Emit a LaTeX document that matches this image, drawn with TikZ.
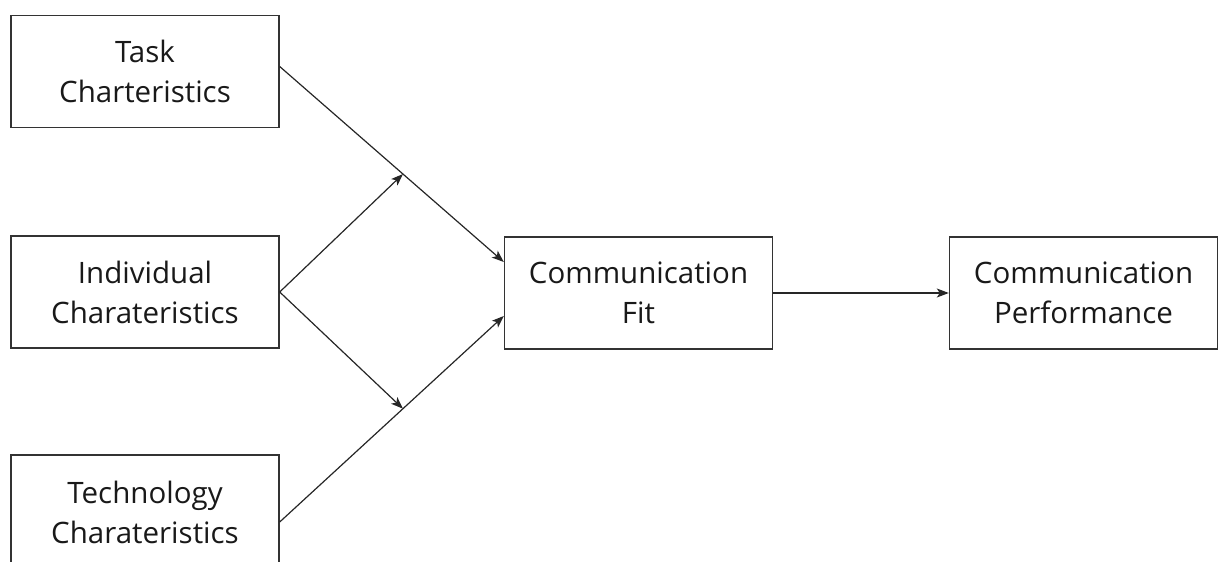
\documentclass[tikz,border=0pt]{standalone}
\usepackage{fontspec}
\setmainfont{Open Sans}
\usetikzlibrary{arrows.meta,calc}
\begin{document}
\begin{tikzpicture}[x=1pt,y=-1pt,
  factor/.style={draw=black!80,line width=1.4pt,minimum width=268pt,minimum height=112pt,
    inner sep=0pt,align=center,font=\fontsize{29.5}{40}\selectfont,text=black!90},
  link/.style={draw=black!85,line width=1.2pt},
  flow/.style={link,-{Stealth[length=12pt,width=9pt,inset=3pt]}}]
\useasboundingbox (0,0) rectangle (1218,562);
% input factors
\node[factor] (task) at (145,71.5) {Task\\Charteristics};
\node[factor] (indiv) at (145,292) {Individual\\Charateristics};
\node[factor,minimum height=114pt] (tech) at (145,512) {Technology\\Charateristics};
% outcomes
\node[factor] (fit) at (638.5,293) {Communication\\Fit};
\node[factor] (perf) at (1083.5,293) {Communication\\Performance};
% entry points on the fit box and the junctions on the diagonals
\coordinate (fitA) at ([yshift=31pt]fit.west);
\coordinate (fitB) at ([yshift=-23pt]fit.west);
\coordinate (taskOut) at ([yshift=5pt]task.east);
\coordinate (techOut) at ([yshift=-10pt]tech.east);
\coordinate (jA) at ($(taskOut)!0.55!(fitA)$);
\coordinate (jB) at ($(techOut)!0.55!(fitB)$);
% connectors
\draw[flow] (taskOut) -- (fitA);
\draw[flow] (techOut) -- (fitB);
\draw[flow] (indiv.east) -- (jA);
\draw[flow] (indiv.east) -- (jB);
\draw[flow] (fit.east) -- (perf.west);
\end{tikzpicture}
\end{document}
